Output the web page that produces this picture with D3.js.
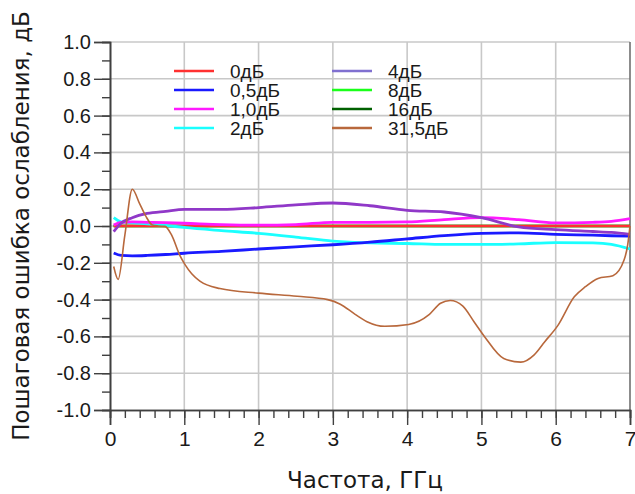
<!DOCTYPE html>
<html><head><meta charset="utf-8">
<script src="https://cdn.jsdelivr.net/npm/d3@7"></script>
<style>body{margin:0;background:#fff}svg{display:block}</style>
</head><body>
<svg id="c" width="635" height="494"></svg>
<script>
const xTicks = [0,1,2,3,4,5,6,7];
const yTicks = [-1.0,-0.8,-0.6,-0.4,-0.2,0.0,0.2,0.4,0.6,0.8,1.0];
const seriesNames = ["0дБ","0,5дБ","1,0дБ","2дБ","4дБ","8дБ","16дБ","31,5дБ"];
const seriesColors = ["#ff3030","#1a1aff","#ff1aff","#1affff","#9038c8","#1aff1a","#006000","#b8683c"];

const freq = [0.05,0.15,0.3,0.5,0.75,1,1.5,2,2.5,3,3.5,4,4.5,5,5.5,6,6.5,6.75,7];
const s0  = [0,0,0,0,0,0,0,0,0,0,0,0,0,0,0,0,0,0,0];
const s05 = [-0.147,-0.16,-0.162,-0.16,-0.155,-0.148,-0.138,-0.125,-0.113,-0.102,-0.088,-0.07,-0.052,-0.04,-0.037,-0.045,-0.05,-0.053,-0.055];
const s10 = [0.005,0.02,0.022,0.02,0.018,0.015,0.008,0.005,0.008,0.02,0.02,0.022,0.035,0.045,0.035,0.017,0.02,0.025,0.04];
const s2  = [0.045,0.022,0.018,0.012,0.003,-0.008,-0.025,-0.04,-0.06,-0.082,-0.092,-0.095,-0.1,-0.1,-0.097,-0.09,-0.092,-0.1,-0.125];
const s4  = [-0.03,0.015,0.045,0.068,0.08,0.09,0.09,0.1,0.115,0.125,0.11,0.085,0.076,0.045,-0.005,-0.02,-0.03,-0.035,-0.045];
const s8  = [0,0,0,0,0,0,0,0,0,0,0,0,0,0,0,0,0,0,0];
const s16 = [0,0,0,0,0,0,0,0,0,0,0,0,0,0,0,0,0,0,0];

const freq315 = [0.05,0.11,0.2,0.3,0.4,0.48,0.57,0.65,0.74,0.83,0.94,1.01,1.1,1.21,1.48,2.0,2.52,2.93,3.1,3.3,3.46,3.7,4.02,4.3,4.45,4.58,4.75,4.9,5.04,5.3,5.53,5.71,5.85,6.03,6.25,6.4,6.57,6.77,6.92,6.97,7.0];
const s315 = [-0.22,-0.29,-0.05,0.2,0.12,0.055,0.005,0.0,-0.002,-0.05,-0.16,-0.21,-0.26,-0.3,-0.34,-0.365,-0.382,-0.4,-0.425,-0.48,-0.52,-0.545,-0.535,-0.48,-0.42,-0.405,-0.435,-0.52,-0.6,-0.72,-0.74,-0.7,-0.63,-0.54,-0.385,-0.33,-0.285,-0.27,-0.185,-0.1,0.0];

const series = [
  {name:seriesNames[5], color:seriesColors[5], f:freq, v:s8, w:2.5},
  {name:seriesNames[6], color:seriesColors[6], f:freq, v:s16, w:2.5},
  {name:seriesNames[0], color:seriesColors[0], f:freq, v:s0, w:2.5},
  {name:seriesNames[3], color:seriesColors[3], f:freq, v:s2, w:2.8},
  {name:seriesNames[1], color:seriesColors[1], f:freq, v:s05, w:2.8},
  {name:seriesNames[2], color:seriesColors[2], f:freq, v:s10, w:2.8},
  {name:seriesNames[4], color:seriesColors[4], f:freq, v:s4, w:2.8},
  {name:seriesNames[7], color:seriesColors[7], f:freq315, v:s315, w:1.6}
];

const svg = d3.select("#c");
const x = d3.scaleLinear().domain([0,7]).range([110,630]);
const y = d3.scaleLinear().domain([-1,1]).range([410,42]);

// grid
const g = svg.append("g");
g.selectAll(".gv").data(xTicks.slice(1,-1)).join("line")
  .attr("x1",d=>x(d)).attr("x2",d=>x(d)).attr("y1",y(-1)).attr("y2",y(1))
  .attr("stroke","#c8c8c8").attr("stroke-width",1.6);
g.selectAll(".gh").data(yTicks.slice(1)).join("line")
  .attr("x1",x(0)).attr("x2",x(7)).attr("y1",d=>y(d)).attr("y2",d=>y(d))
  .attr("stroke","#c8c8c8").attr("stroke-width",1.6);
// right border
g.append("line").attr("x1",x(7)).attr("x2",x(7)).attr("y1",y(-1)).attr("y2",y(1))
  .attr("stroke","#707070").attr("stroke-width",1.6);

// lines
const line = d3.line().curve(d3.curveMonotoneX);
series.forEach(s=>{
  svg.append("path")
    .attr("d", line(s.f.map((f,i)=>[x(f), y(s.v[i])])))
    .attr("fill","none").attr("stroke",s.color).attr("stroke-width",s.w)
    .attr("stroke-linejoin","round");
});

// axes
const fontAx = "'Liberation Sans', Arial, sans-serif";
const xMinor = d3.range(0,7.001,0.2);
const yMinor = d3.range(-1,1.001,0.1);
const ax = svg.append("g").attr("transform",`translate(0,${y(-1)})`);
ax.call(d3.axisBottom(x).tickValues(xMinor).tickSize(8).tickFormat(""));
ax.append("g").call(d3.axisBottom(x).tickValues(xTicks).tickSize(15).tickPadding(6).tickFormat(d=>d));
const ay = svg.append("g").attr("transform",`translate(${x(0)},0)`);
ay.call(d3.axisLeft(y).tickValues(yMinor).tickSize(8).tickFormat(""));
ay.append("g").call(d3.axisLeft(y).tickValues(yTicks).tickSize(16).tickPadding(3).tickFormat(d=>d.toFixed(1)));
svg.selectAll(".domain").attr("stroke","#404040").attr("stroke-width",1.6);
svg.selectAll(".tick line").attr("stroke","#404040").attr("stroke-width",1.4);
svg.selectAll(".tick text").attr("font-family",fontAx).attr("font-size",20).attr("fill","#1a1a1a");
ax.selectAll(".tick text").attr("font-size",21);

// titles
const fontT = "'DejaVu Sans', 'Noto Sans', sans-serif";
svg.append("text").attr("x",365).attr("y",488).attr("text-anchor","middle")
  .attr("font-family",fontT).attr("font-size",23).attr("fill","#1a1a1a").text("Частота, ГГц");
svg.append("text").attr("transform","translate(29,226) rotate(-90)").attr("text-anchor","middle")
  .attr("font-family",fontT).attr("font-size",23).attr("fill","#1a1a1a").text("Пошаговая ошибка ослабления, дБ");

// legend
const legOrder = [0,1,2,3,4,5,6,7];
const leg = svg.append("g");
legOrder.forEach((k,i)=>{
  const col = Math.floor(i/4), row = i%4;
  const lx = col===0 ? 174 : 332;
  const ly = 71 + row*19;
  leg.append("line").attr("x1",lx).attr("x2",lx+40).attr("y1",ly).attr("y2",ly)
    .attr("stroke",k===4?"#8070d0":seriesColors[k]).attr("stroke-width",2.5);
  leg.append("text").attr("x",lx+56).attr("y",ly+7).attr("font-family",fontAx)
    .attr("font-size",19).attr("fill","#1a1a1a").text(seriesNames[k]);
});
</script>
</body></html>
